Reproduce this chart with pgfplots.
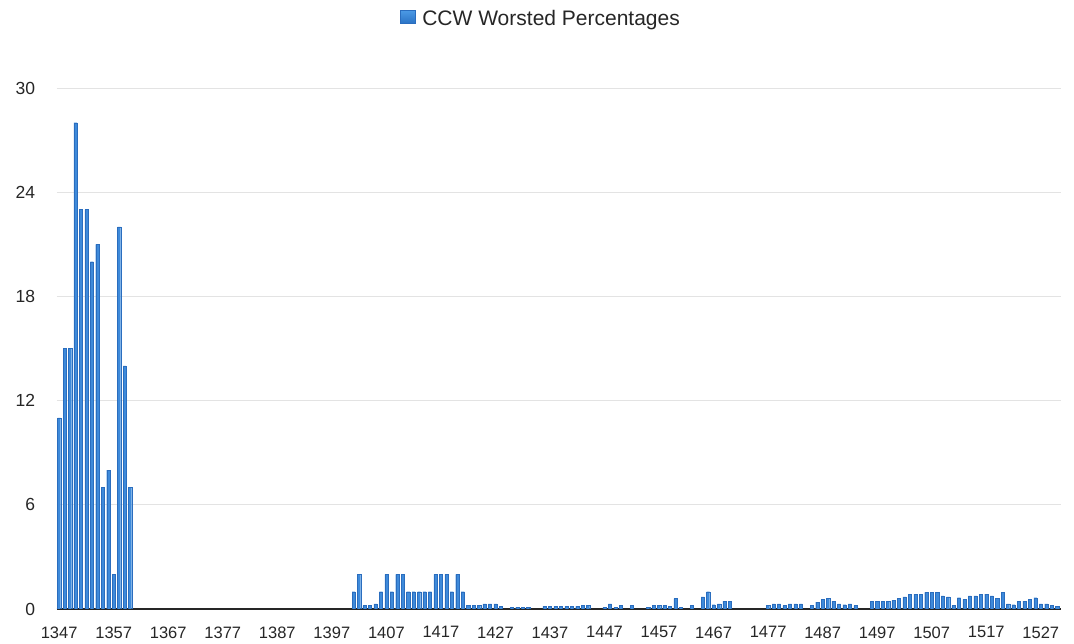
\documentclass[border=0pt]{standalone}
\usepackage{pgfplots}
\pgfplotsset{compat=1.18}
\usepackage{fontspec}
\setmainfont{Liberation Sans}
\definecolor{barTop}{HTML}{4C9BE6}
\definecolor{barBot}{HTML}{2C74C6}
\definecolor{barFill}{HTML}{3E8ADA}
\definecolor{barEdge}{HTML}{2A6DBE}
\definecolor{gridc}{HTML}{E3E3E3}
\definecolor{txt}{HTML}{262626}
\begin{document}
\begin{tikzpicture}
\begin{axis}[
  at={(0,0)}, anchor=south west,
  scale only axis,
  width=1004.3pt, height=521pt,
  xmin=1346.55, xmax=1530.7,
  ymin=0, ymax=30,
  enlargelimits=false,
  ybar, bar width=0.58,
  axis x line*=bottom, axis y line*=left,
  x axis line style={draw=black!85, line width=1.3pt},
  y axis line style={draw=none},
  major tick length=0pt,
  xtick={1347,1357,...,1527},
  ytick={0,6,12,18,24,30},
  ymajorgrids,
  grid style={draw=gridc, line width=0.9pt},
  /pgf/number format/assume math mode=true,
  /pgf/number format/1000 sep={},
  tick label style={font=\fontsize{16.5}{19}\selectfont, text=txt},
  xticklabel style={yshift=-14pt},
  yticklabel style={xshift=-18pt, font=\fontsize{17.5}{20}\selectfont},
  legend style={at={(0.4822,1.1324)}, anchor=center, draw=none, fill=none,
    font=\fontsize{21}{25}\selectfont, text=txt},
  legend image code/.code={\fill[top color=barTop, bottom color=barBot] (0pt,-4pt) rectangle (15pt,9pt); \path (20pt,0);},
]
\addplot[fill=barFill, draw=barEdge, line width=0.25pt] coordinates {
(1347,11) (1348,15) (1349,15) (1350,28) (1351,23) (1352,23) (1353,20) (1354,21)
(1355,7) (1356,8) (1357,2) (1358,22) (1359,14) (1360,7)
(1401,1) (1402,2) (1403,0.2) (1404,0.2) (1405,0.3) (1406,1) (1407,2) (1408,1)
(1409,2) (1410,2) (1411,1) (1412,1) (1413,1) (1414,1) (1415,1) (1416,2) (1417,2)
(1418,2) (1419,1) (1420,2) (1421,1) (1422,0.2) (1423,0.2) (1424,0.2) (1425,0.3)
(1426,0.3) (1427,0.3) (1428,0.15) (1430,0.1) (1431,0.1) (1432,0.1) (1433,0.1)
(1436,0.15) (1437,0.15) (1438,0.15) (1439,0.15) (1440,0.15) (1441,0.15) (1442,0.15)
(1443,0.2) (1444,0.2) (1447,0.1) (1448,0.3) (1449,0.1) (1450,0.2) (1452,0.2)
(1455,0.1) (1456,0.2) (1457,0.2) (1458,0.2) (1459,0.15) (1460,0.6) (1461,0.1)
(1463,0.2) (1465,0.7) (1466,1.0) (1467,0.25) (1468,0.3) (1469,0.45) (1470,0.45)
(1477,0.2) (1478,0.3) (1479,0.3) (1480,0.2) (1481,0.3) (1482,0.3) (1483,0.3)
(1485,0.2) (1486,0.4) (1487,0.55) (1488,0.6) (1489,0.45) (1490,0.3) (1491,0.25)
(1492,0.3) (1493,0.2) (1496,0.45) (1497,0.45) (1498,0.45) (1499,0.45) (1500,0.5)
(1501,0.6) (1502,0.7) (1503,0.85) (1504,0.85) (1505,0.85) (1506,0.95) (1507,0.95)
(1508,0.95) (1509,0.75) (1510,0.7) (1511,0.2) (1512,0.65) (1513,0.55) (1514,0.75)
(1515,0.75) (1516,0.85) (1517,0.85) (1518,0.75) (1519,0.6) (1520,0.95) (1521,0.3)
(1522,0.25) (1523,0.45) (1524,0.45) (1525,0.55) (1526,0.65) (1527,0.3) (1528,0.3)
(1529,0.2) (1530,0.15)
};
\addlegendentry{CCW Worsted Percentages}
\end{axis}
\pgfresetboundingbox
\useasboundingbox (-56.7pt,-35pt) rectangle (1017.3pt,609pt);
\end{tikzpicture}
\end{document}
